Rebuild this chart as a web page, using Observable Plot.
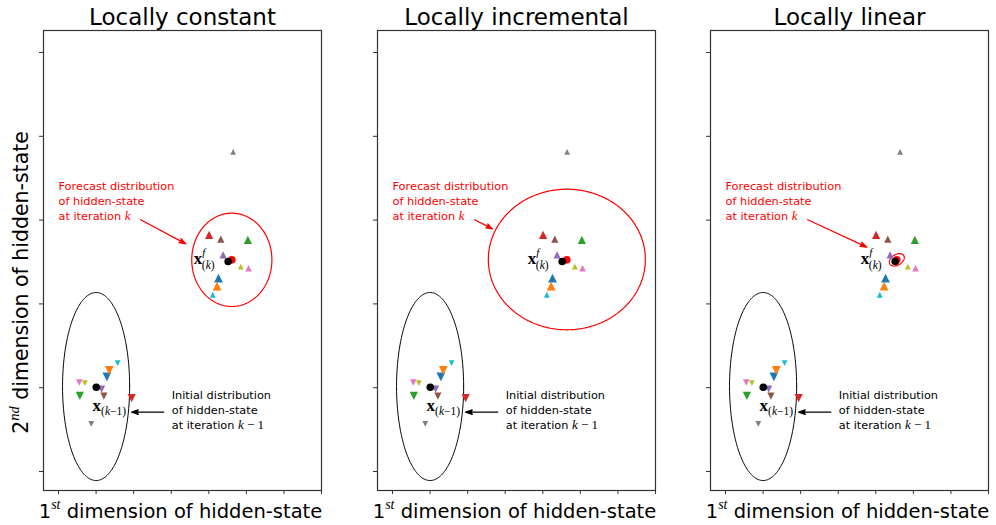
<!DOCTYPE html>
<html>
<head>
<meta charset="utf-8">
<script src="https://cdn.jsdelivr.net/npm/d3@7"></script>
<script src="https://cdn.jsdelivr.net/npm/@observablehq/plot@0.6"></script>
<style>
html, body { margin: 0; padding: 0; background: #fff; overflow: hidden; }
#wrap { position: relative; width: 996px; height: 525px; }
#wrap svg { position: absolute; top: 0; }
</style>
</head>
<body>
<div id="wrap"></div>
<script>
// ---------------- data ----------------
const panelTitles = ["Locally constant", "Locally incremental", "Locally linear"];
const xTicks = [0, 1, 2, 3, 4, 5, 6, 7];
const yTicks = [0, 1, 2, 3, 4, 5];
const xDomain = [-0.4, 7];
const yDomain = [-0.227, 5.263];

// ensemble members (tab10 colours)
const memberColors = ["#1f77b4", "#ff7f0e", "#2ca02c", "#d62728", "#9467bd", "#8c564b", "#e377c2", "#7f7f7f", "#bcbd22", "#17becf"];
const memberSize   = [4.4, 4.4, 4.1, 4.1, 3.6, 3.6, 3.3, 2.9, 2.9, 2.9];
// initial ensemble at iteration k-1 (down triangles)
const priorX = [1.288, 1.352, 0.568, 1.947, 1.147, 1.208, 0.552, 0.872, 0.701, 1.573];
const priorY = [1.130, 1.205, 0.903, 0.875, 0.982, 0.899, 1.062, 0.569, 1.054, 1.292];
// forecast ensemble at iteration k (up triangles)
const forecastX = [4.259, 4.221, 5.040, 4.008, 4.381, 4.320, 5.059, 4.648, 4.853, 4.107];
const forecastY = [2.307, 2.211, 2.765, 2.825, 2.586, 2.772, 2.426, 3.815, 2.446, 2.109];

const priorMean = [1.005, 1.006];
const forecastMean = [4.515, 2.506];
const forecastMeanRed = [[4.613, 2.526], [4.64, 2.526], [4.56, 2.526]];

// ellipses: [cx, cy, rx, ry, angle]
const priorEllipse = [1.0, 1.014, 0.893, 1.122, 0];
const forecastEllipses = [[4.613, 2.526, 1.067, 0.557, 0], [4.64, 2.530, 2.09, 0.839, 0], [4.56, 2.526, 0.2, 0.068, 9]];

// annotations
const forecastNote = "Forecast distribution\nof hidden-state\nat iteration k";
const initialNote = "Initial distribution\nof hidden-state\nat iteration k − 1";
const forecastNotePos = [0, 3.234];
const initialNotePos = [3.013, 0.74];
const forecastLabelPos = [3.6, 2.542];
const priorLabelPos = [0.907, 0.788];
const forecastArrowStart = [2.187, 3.004];
const forecastArrowEnd = [[3.387, 2.717], [2.659, 2.896], [3.76, 2.677]];
const initialArrow = [[2.8, 0.708], [1.947, 0.708]];

// --------------- helpers ----------------
const triUp = {draw(ctx, size) { const r = Math.sqrt(size / Math.PI); ctx.moveTo(0, -r); ctx.lineTo(r, r); ctx.lineTo(-r, r); ctx.closePath(); }};
const triDown = {draw(ctx, size) { const r = Math.sqrt(size / Math.PI); ctx.moveTo(0, r); ctx.lineTo(r, -r); ctx.lineTo(-r, -r); ctx.closePath(); }};

function ellipsePts([cx, cy, rx, ry, deg]) {
  const a = deg * Math.PI / 180;
  return d3.range(0, 241).map(k => {
    const t = k / 240 * 2 * Math.PI;
    const ex = rx * Math.cos(t), ey = ry * Math.sin(t);
    return {x: cx + ex * Math.cos(a) - ey * Math.sin(a), y: cy + ex * Math.sin(a) + ey * Math.cos(a)};
  });
}

const priorRows = memberColors.map((c, i) => ({x: priorX[i], y: priorY[i], c, r: memberSize[i]}));
const forecastRows = memberColors.map((c, i) => ({x: forecastX[i], y: forecastY[i], c, r: memberSize[i]}));

const SERIF = "Liberation Serif";

function setRich(node, parts) {
  const t = d3.select(node);
  t.text(null);
  let shift = 0;
  for (const p of parts) {
    const ts = t.append("tspan").text(p.t);
    const target = p.dy || 0;
    if (target !== shift) { ts.attr("dy", target - shift); shift = target; }
    if (p.dx) ts.attr("dx", p.dx);
    if (p.size) ts.attr("font-size", p.size);
    if (p.italic) ts.attr("font-style", "italic");
    if (p.family) ts.attr("font-family", p.family);
    if (p.weight) ts.attr("font-weight", p.weight);
  }
}

function panel(i) {
  const last = i === 2;
  const marks = [
    Plot.line(ellipsePts(priorEllipse), {x: "x", y: "y", stroke: "black", strokeWidth: 1}),
    Plot.line(ellipsePts(forecastEllipses[i]), {x: "x", y: "y", stroke: "red", strokeWidth: 1.2}),
    Plot.dot(priorRows, {x: "x", y: "y", r: "r", fill: "c", symbol: triDown}),
    Plot.dot(forecastRows, {x: "x", y: "y", r: "r", fill: "c", symbol: triUp}),
    Plot.dot([forecastMeanRed[i]], {x: d => d[0], y: d => d[1], r: 3.8, fill: "red"}),
    Plot.dot([forecastMean], {x: d => d[0], y: d => d[1], r: 3.8, fill: "black"}),
    Plot.dot([priorMean], {x: d => d[0], y: d => d[1], r: 3.8, fill: "black"}),
    Plot.text([forecastNote], {x: forecastNotePos[0], y: forecastNotePos[1], text: d => d, textAnchor: "start", lineAnchor: "middle", fontSize: 11.3, lineHeight: 1.33, fill: "red", className: "note"}),
    Plot.text([initialNote], {x: initialNotePos[0], y: initialNotePos[1], text: d => d, textAnchor: "start", lineAnchor: "middle", fontSize: 11.3, lineHeight: 1.33, fill: "black", className: "note"}),
    Plot.text(["xf(k)"], {x: forecastLabelPos[0], y: forecastLabelPos[1], text: d => d, textAnchor: "start", lineAnchor: "middle", fontSize: 16, className: "xf"}),
    Plot.text(["x(k-1)"], {x: priorLabelPos[0], y: priorLabelPos[1], text: d => d, textAnchor: "start", lineAnchor: "middle", fontSize: 16, className: "xp"}),
    Plot.arrow([0], {x1: forecastArrowStart[0], y1: forecastArrowStart[1], x2: forecastArrowEnd[i][0], y2: forecastArrowEnd[i][1], stroke: "red", strokeWidth: 1.3, headLength: 8, headAngle: 38, className: "arw"}),
    Plot.arrow([0], {x1: initialArrow[0][0], y1: initialArrow[0][1], x2: initialArrow[1][0], y2: initialArrow[1][1], stroke: "black", strokeWidth: 1.3, headLength: 8, headAngle: 38, className: "arw"}),
    Plot.frame({stroke: "#333", strokeWidth: 1.2}),
    Plot.axisX({ticks: xTicks, tickSize: 4, tickFormat: () => "", label: null, stroke: "#333"}),
    Plot.axisY({ticks: yTicks, tickSize: 4, tickFormat: () => "", label: null, stroke: "#333"}),
    Plot.text([panelTitles[i]], {frameAnchor: "top", lineAnchor: "bottom", dy: -6, fontSize: 23, text: d => d, fill: "black"}),
    Plot.text(["1st dimension of hidden-state"], {frameAnchor: "bottom", lineAnchor: "bottom", dy: 27, dx: -2, fontSize: 19.5, text: d => d, fill: "black", className: "xlabel"})
  ];
  if (i === 0) {
    marks.push(Plot.text(["2nd dimension of hidden-state"], {frameAnchor: "left", textAnchor: "middle", lineAnchor: "bottom", rotate: -90, dx: -16, dy: 22, fontSize: 20.5, text: d => d, fill: "black", className: "ylabel"}));
  }
  const svg = Plot.plot({
    width: last ? 329 : 334,
    height: 525,
    marginLeft: 43,
    marginRight: last ? 8 : 13,
    marginTop: 30,
    marginBottom: 35,
    x: {domain: xDomain},
    y: {domain: yDomain},
    r: {type: "identity"},
    color: {type: "identity"},
    style: {fontFamily: "DejaVu Sans", background: "white", color: "black"},
    marks
  });

  // filled arrow heads (the shaft subpath has no area)
  d3.select(svg).selectAll(".arw path").each(function() {
    const s = this.getAttribute("stroke") || d3.select(this.parentNode).attr("stroke");
    this.setAttribute("fill", s);
    this.setAttribute("stroke-linejoin", "miter");
  });

  // math-style text
  d3.select(svg).selectAll(".xlabel text").each(function() {
    setRich(this, [{t: "1"}, {t: "st", italic: true, family: SERIF, size: 14, dy: -9}, {t: " dimension of hidden-state", dy: 0}]);
  });
  d3.select(svg).selectAll(".ylabel text").each(function() {
    setRich(this, [{t: "2"}, {t: "nd", italic: true, family: SERIF, size: 14.5, dy: -9}, {t: " dimension of hidden-state", dy: 0}]);
  });
  d3.select(svg).selectAll(".xf text").each(function() {
    setRich(this, [
      {t: "x", family: SERIF, weight: "bold", size: 17},
      {t: "f", family: SERIF, italic: true, size: 11, dy: -8},
      {t: "(", family: SERIF, size: 11.5, dy: 5, dx: -3.5},
      {t: "k", family: SERIF, italic: true, size: 11.5, dy: 5},
      {t: ")", family: SERIF, size: 11.5, dy: 5}
    ]);
  });
  d3.select(svg).selectAll(".xp text").each(function() {
    setRich(this, [
      {t: "x", family: SERIF, weight: "bold", size: 17},
      {t: "(", family: SERIF, size: 11.5, dy: 4},
      {t: "k", family: SERIF, italic: true, size: 11.5, dy: 4},
      {t: "−1)", family: SERIF, size: 11.5, dy: 4}
    ]);
  });
  d3.select(svg).selectAll(".note tspan").each(function() {
    const s = this.textContent;
    if (s.startsWith("at iteration")) {
      const rest = s.slice("at iteration ".length);
      const ts = d3.select(this);
      ts.text("at iteration ");
      ts.append("tspan").attr("font-family", SERIF).attr("font-style", "italic").attr("font-size", 13).text("k");
      if (rest.length > 1) ts.append("tspan").attr("font-family", SERIF).attr("font-size", 13).text(rest.slice(1));
    }
  });
  return svg;
}

const wrap = document.getElementById("wrap");
const lefts = [0, 334, 667];
for (let i = 0; i < 3; i++) {
  const svg = panel(i);
  svg.style.left = lefts[i] + "px";
  wrap.appendChild(svg);
}
</script>
</body>
</html>
